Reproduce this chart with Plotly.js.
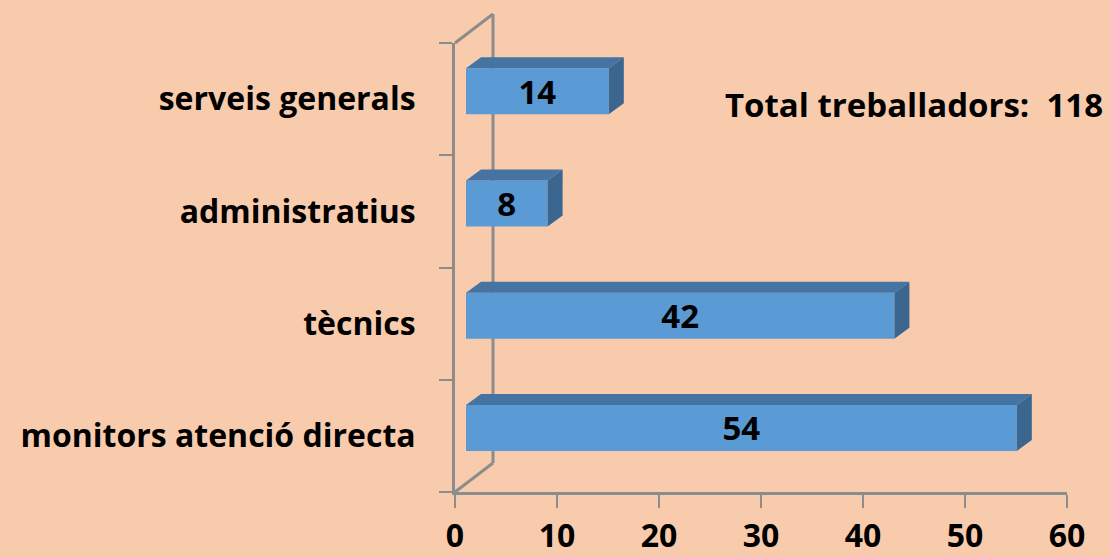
<!DOCTYPE html>
<html>
<head>
<meta charset="utf-8">
<script src="https://cdn.plot.ly/plotly-3.0.1.min.js"></script>
<style>html,body{margin:0;padding:0;background:#F8CBAD;}#chart{width:1110px;height:557px;}</style>
</head>
<body>
<div id="chart"></div>
<script>
// ---- data ----
var categories = ["monitors atenció directa", "tècnics", "administratius", "serveis generals"];
var values = [54, 42, 8, 14];
var totalLabel = "Total treballadors:";
var xTickValues = [0, 10, 20, 30, 40, 50, 60];

// ---- geometry / style constants ----
var FONT = "'Open Sans', Lato, sans-serif";
var BG = "#F8CBAD";
var FRONT = "#5B9BD5", TOP = "#4574A2", SIDE = "#3A6690";
var AXIS = "#8C8C8C";
var L = 455, R = 43, T = 43, B = 65;
var W = 1110 - L - R, H = 557 - T - B;
var pxPerX = W / 60, pxPerY = H / 4;
var BAR_SHIFT_X = 11, BAR_SHIFT_Y = 8;     // front-face offset (px)
var BDX = 15 / pxPerX, BDY = 11 / pxPerY;  // bar depth in data units
var BAR_W = 46 / pxPerY;
var WALL_DX = 38, WALL_DY = 29;            // wall depth (px)

var idx = categories.map(function (c, i) { return i; });
var total = values.reduce(function (a, b) { return a + b; }, 0);

var traces = [];
traces.push({x: [0], y: [0], xaxis: 'x', yaxis: 'y', mode: 'markers', marker: {opacity: 0}, hoverinfo: 'skip', showlegend: false});

// front faces
traces.push({
  type: 'bar', orientation: 'h', x: values, y: idx, xaxis: 'x2', yaxis: 'y2',
  width: BAR_W, marker: {color: FRONT, line: {width: 0}},
  text: values.map(String), textposition: 'inside', insidetextanchor: 'middle',
  textangle: 0, constraintext: 'none',
  textfont: {family: FONT, size: 33, color: '#000000', weight: 'bold'},
  hoverinfo: 'skip', showlegend: false
});
// top and side faces
values.forEach(function (v, i) {
  var yt = i + BAR_W / 2, yb = i - BAR_W / 2;
  traces.push({
    x: [0, BDX, v + BDX, v, 0], y: [yt, yt + BDY, yt + BDY, yt, yt],
    xaxis: 'x2', yaxis: 'y2', mode: 'lines', fill: 'toself', fillcolor: TOP,
    line: {width: 0, color: TOP}, hoverinfo: 'skip', showlegend: false
  });
  traces.push({
    x: [v, v + BDX, v + BDX, v, v], y: [yb, yb + BDY, yt + BDY, yt, yb],
    xaxis: 'x2', yaxis: 'y2', mode: 'lines', fill: 'toself', fillcolor: SIDE,
    line: {width: 0, color: SIDE}, hoverinfo: 'skip', showlegend: false
  });
});

var wx = WALL_DX / W, wy = WALL_DY / H;
var shapes = [
  {type: 'line', xref: 'paper', yref: 'paper', x0: wx, y0: wy, x1: wx, y1: 1 + wy, line: {color: AXIS, width: 3}, layer: 'below'},
  {type: 'line', xref: 'paper', yref: 'paper', x0: 0, y0: 1, x1: wx, y1: 1 + wy, line: {color: AXIS, width: 3}, layer: 'below'},
  {type: 'line', xref: 'paper', yref: 'paper', x0: 0, y0: 0, x1: wx, y1: wy, line: {color: AXIS, width: 3}, layer: 'below'}
];

var layout = {
  width: 1110, height: 557,
  margin: {l: L, r: R, t: T, b: B, pad: 0},
  paper_bgcolor: BG, plot_bgcolor: BG,
  showlegend: false,
  font: {family: FONT, color: '#000000'},
  xaxis: {
    range: [0, 60], tickvals: xTickValues, ticktext: xTickValues.map(String),
    ticks: 'outside', ticklen: 13, tickwidth: 2, tickcolor: AXIS, ticklabelstandoff: 1,
    showline: true, linecolor: AXIS, linewidth: 3, showgrid: false, zeroline: false,
    tickfont: {family: FONT, size: 32, color: '#000000', weight: 'bold'},
    fixedrange: true
  },
  yaxis: {
    range: [-0.5, 3.5], tickvals: idx, ticktext: categories,
    ticks: '', ticklabelstandoff: 30,
    minor: {tickmode: 'linear', tick0: -0.5, dtick: 1, ticks: 'outside', ticklen: 13, tickwidth: 2, tickcolor: AXIS, showgrid: false},
    showline: true, linecolor: AXIS, linewidth: 3, showgrid: false, zeroline: false,
    tickfont: {family: FONT, size: 32, color: '#000000', weight: 'bold'},
    fixedrange: true
  },
  xaxis2: {overlaying: 'x', range: [-BAR_SHIFT_X / pxPerX, 60 - BAR_SHIFT_X / pxPerX], visible: false, fixedrange: true},
  yaxis2: {overlaying: 'y', range: [-0.5 - BAR_SHIFT_Y / pxPerY, 3.5 - BAR_SHIFT_Y / pxPerY], visible: false, fixedrange: true},
  shapes: shapes,
  annotations: [{
    xref: 'paper', yref: 'paper', x: (914 - L) / W, y: (557 - B - 104) / H,
    xanchor: 'center', yanchor: 'middle', showarrow: false,
    text: totalLabel + '\u00a0\u00a0' + total,
    font: {family: FONT, size: 33, color: '#000000', weight: 'bold'}
  }]
};

Plotly.newPlot('chart', traces, layout, {displayModeBar: false, staticPlot: true});
</script>
</body>
</html>
